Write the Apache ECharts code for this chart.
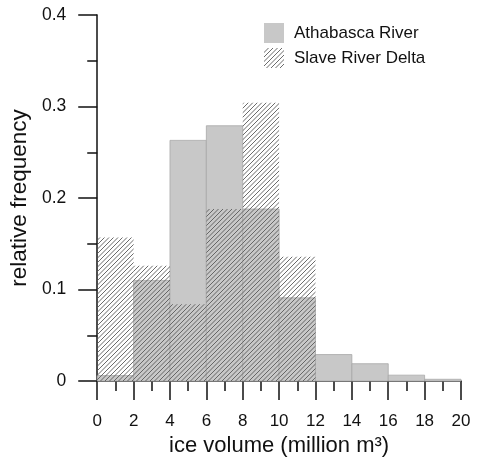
<!DOCTYPE html>
<html>
<head>
<meta charset="utf-8">
<script src="https://cdn.jsdelivr.net/npm/echarts@6/dist/echarts.min.js"></script>
<style>html,body{margin:0;padding:0;background:#fff}#c{width:477px;height:462px}</style>
</head>
<body>
<div id="c"></div>
<script>
const binEdges = [0, 2, 4, 6, 8, 10, 12, 14, 16, 18, 20];
const athabasca = [0.006, 0.110, 0.263, 0.279, 0.188, 0.091, 0.029, 0.019, 0.0065, 0.002];
const slaveDelta = [0.157, 0.126, 0.084, 0.188, 0.304, 0.136, 0, 0, 0, 0];
const seriesNames = ['Athabasca River', 'Slave River Delta'];
const xTicks = [0, 2, 4, 6, 8, 10, 12, 14, 16, 18, 20];
const yTicks = [0, 0.1, 0.2, 0.3, 0.4];

function makeHatch() {
  const n = 9;
  const cv = document.createElement('canvas');
  cv.width = n; cv.height = n;
  const ctx = cv.getContext('2d');
  ctx.strokeStyle = '#5a5a5a';
  ctx.lineWidth = 0.9;
  for (let c = -9; c <= 27; c += 4.5) {
    ctx.beginPath();
    ctx.moveTo(-2, c + 2);
    ctx.lineTo(n + 2, c - n - 2);
    ctx.stroke();
  }
  return cv;
}
const hatch = { image: makeHatch(), repeat: 'repeat' };

function toData(vals) {
  return vals.map((v, i) => [binEdges[i], binEdges[i + 1], v]);
}

function renderer(fill, stroke) {
  return function (params, api) {
    const x0 = api.value(0), x1 = api.value(1), v = api.value(2);
    if (!v) return null;
    const p0 = api.coord([x0, 0]);
    const p1 = api.coord([x1, v]);
    return {
      type: 'rect',
      shape: { x: p0[0], y: p1[1], width: p1[0] - p0[0], height: p0[1] - p1[1] },
      style: { fill: fill, stroke: stroke, lineWidth: stroke ? 0.8 : 0 }
    };
  };
}

const chart = echarts.init(document.getElementById('c'), null, { renderer: 'canvas' });
const font = 'Liberation Sans, Arial, sans-serif';
chart.setOption({
  animation: false,
  backgroundColor: '#fff',
  grid: { left: 97, right: 16, top: 15, bottom: 79 },
  legend: {
    left: 259, top: 18, orient: 'vertical',
    itemWidth: 20, itemHeight: 20, itemGap: 5,
    textStyle: { fontFamily: font, fontSize: 17, color: '#111', padding: [0, 0, 0, 5] },
    data: [
      { name: seriesNames[0], icon: 'rect', itemStyle: { color: '#c8c8c8' } },
      { name: seriesNames[1], icon: 'rect', itemStyle: { color: hatch } }
    ]
  },
  xAxis: {
    type: 'value', min: xTicks[0], max: xTicks[xTicks.length - 1], interval: 2,
    name: 'ice volume (million m³)', nameLocation: 'middle', nameGap: 51,
    nameTextStyle: { fontFamily: font, fontSize: 22, color: '#111' },
    axisLine: { show: true, lineStyle: { color: '#111', width: 1.5 } },
    axisTick: { show: true, length: 19, lineStyle: { color: '#111', width: 1.5 } },
    minorTick: { show: true, splitNumber: 2, length: 10, lineStyle: { color: '#111', width: 1.5 } },
    axisLabel: { fontFamily: font, fontSize: 17, color: '#111', margin: 32 },
    splitLine: { show: false }
  },
  yAxis: {
    type: 'value', min: yTicks[0], max: yTicks[yTicks.length - 1], interval: 0.1,
    name: 'relative frequency', nameLocation: 'middle', nameGap: 62,
    nameTextStyle: { fontFamily: font, fontSize: 22.5, color: '#111' },
    axisLine: { show: true, lineStyle: { color: '#111', width: 1.5 } },
    axisTick: { show: true, length: 19, lineStyle: { color: '#111', width: 1.5 } },
    minorTick: { show: true, splitNumber: 2, length: 10, lineStyle: { color: '#111', width: 1.5 } },
    axisLabel: { fontFamily: font, fontSize: 17.5, color: '#111', margin: 31 },
    splitLine: { show: false }
  },
  series: [
    {
      name: seriesNames[0], type: 'custom', renderItem: renderer('#c8c8c8', '#a8a8a8'),
      itemStyle: { color: '#c8c8c8' },
      encode: { x: [0, 1], y: 2 }, data: toData(athabasca), z: 1
    },
    {
      name: seriesNames[1], type: 'custom', renderItem: renderer(hatch, null),
      itemStyle: { color: hatch },
      encode: { x: [0, 1], y: 2 }, data: toData(slaveDelta), z: 2
    }
  ]
});
</script>
</body>
</html>
